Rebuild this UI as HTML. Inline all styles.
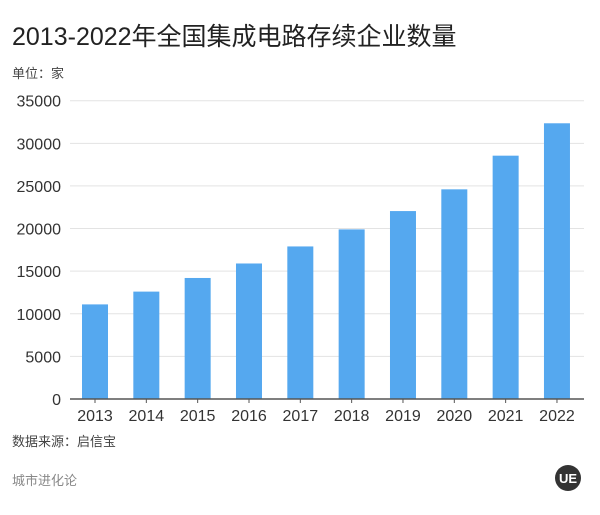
<!DOCTYPE html>
<html><head><meta charset="utf-8"><style>
body{margin:0;background:#fff;width:600px;height:510px;overflow:hidden;font-family:"Liberation Sans","Noto Sans CJK SC",sans-serif;}
</style></head><body>
<svg width="600" height="510" xmlns="http://www.w3.org/2000/svg">
<text x="12" y="45" font-size="25" fill="#222" font-family="Liberation Sans, Noto Sans CJK SC, sans-serif">2013-2022年全国集成电路存续企业数量</text>
<text x="12" y="78" font-size="13" fill="#444" font-family="Liberation Sans, Noto Sans CJK SC, sans-serif">单位：家</text>
<g id="grid"></g><g id="bars"></g><g id="axis"></g>
<text x="12" y="446" font-size="13" fill="#444" font-family="Liberation Sans, Noto Sans CJK SC, sans-serif">数据来源：启信宝</text>
<text x="12" y="485" font-size="13" fill="#888" font-family="Liberation Sans, Noto Sans CJK SC, sans-serif">城市进化论</text>
<circle cx="568" cy="478" r="13" fill="#333"/>
<text x="568" y="483" font-size="13" font-weight="bold" fill="#fff" text-anchor="middle">UE</text>
</svg>
<script>
const years=["2013","2014","2015","2016","2017","2018","2019","2020","2021","2022"];
const counts=[11100,12600,14200,15900,17900,19900,22050,24600,28550,32350];
const yTicks=[0,5000,10000,15000,20000,25000,30000,35000];
const NS="http://www.w3.org/2000/svg";
const y0=399,yTop=100.7,yMax=35000,x0=70,x1=584,cx0=95,step=51.33,bw=26;
const ys=v=>y0-(v/yMax)*(y0-yTop);
const xs=i=>cx0+i*step;
function mk(t,a,p){const e=document.createElementNS(NS,t);for(const k in a)e.setAttribute(k,a[k]);p.appendChild(e);return e;}
const grid=document.getElementById('grid'),bars=document.getElementById('bars'),axis=document.getElementById('axis');
yTicks.forEach(v=>{
 if(v>0){const l=mk('line',{x1:x0,x2:x1,y1:ys(v),y2:ys(v),stroke:'#e3e3e3','stroke-width':1},grid);
 
 }
 const t=mk('text',{x:61,y:ys(v)+6,'font-size':16,fill:'#333','text-anchor':'end'},axis);
 t.textContent=v;
 
 
});
counts.forEach((v,i)=>{
 const r=mk('rect',{x:xs(i)-bw/2,y:ys(v),width:bw,height:y0-ys(v),fill:'#55a8ef'},bars);
 
 
 const tk=mk('line',{x1:xs(i),x2:xs(i),y1:y0,y2:y0+4,stroke:'#555'},axis);
 
 
 const t=mk('text',{x:xs(i),y:y0+22,'font-size':16,fill:'#333','text-anchor':'middle'},axis);
 t.textContent=years[i];
 
 
});
const ax=mk('line',{x1:x0,x2:x1,y1:y0,y2:y0,stroke:'#555','stroke-width':1.5},axis);


</script>
</body></html>
